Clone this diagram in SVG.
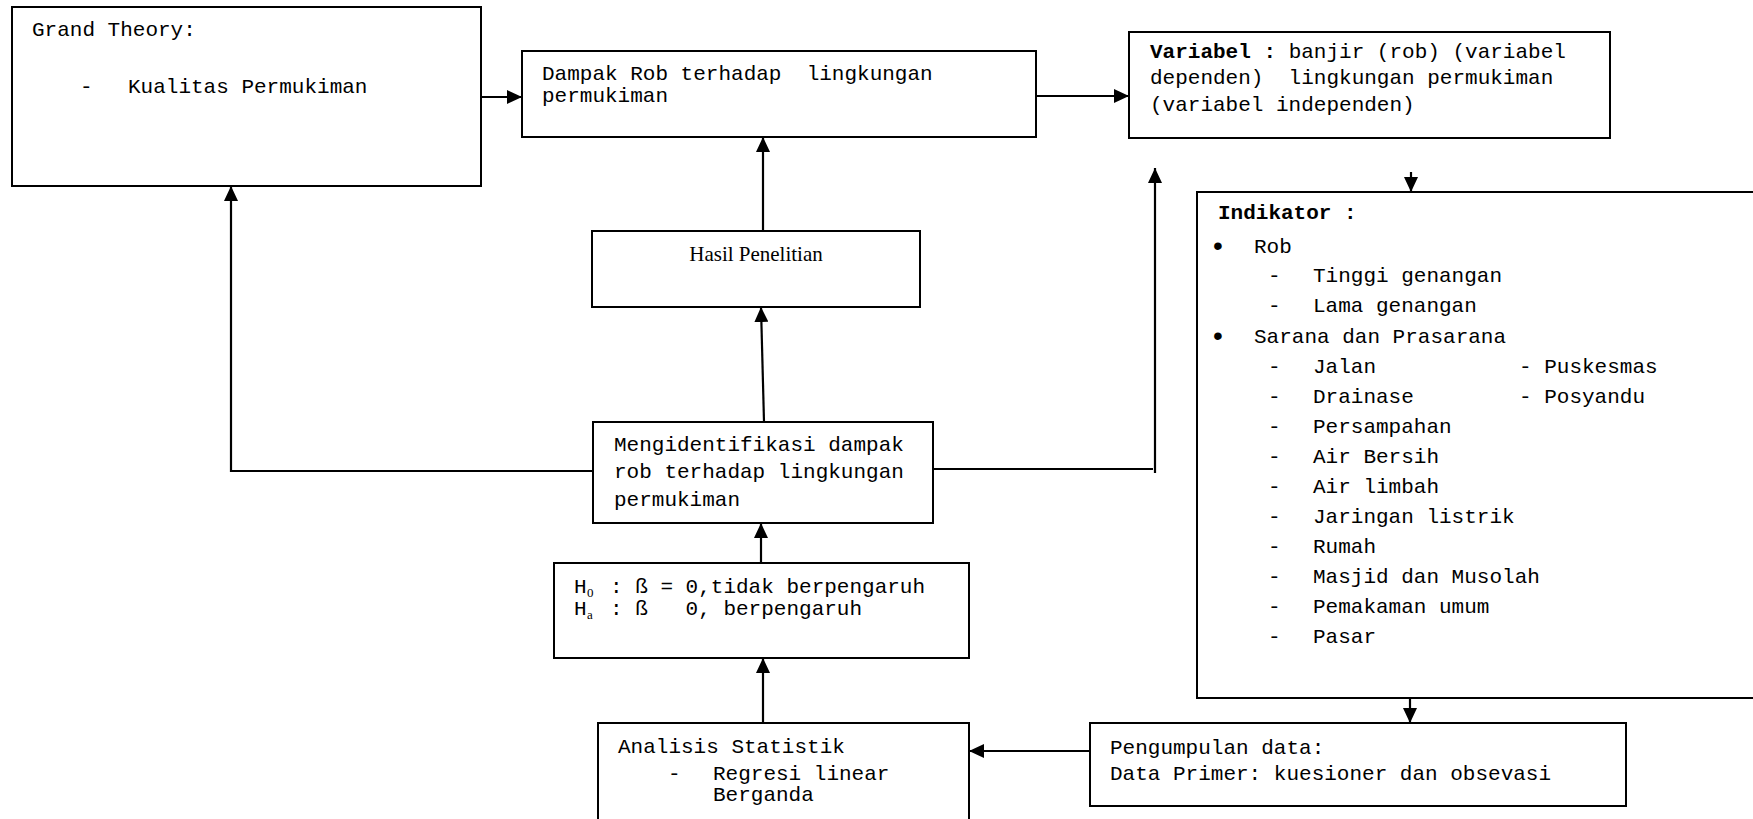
<svg xmlns="http://www.w3.org/2000/svg" width="1753" height="819" viewBox="0 0 1753 819">
<style>
  .box { fill: #fff; stroke: #000; stroke-width: 2; }
  .t { font-family: "Liberation Mono", "Courier New", monospace; font-size: 21px; fill: #000; white-space: pre; }
  .b { font-weight: bold; }
  .serif { font-family: "Liberation Serif", "Times New Roman", serif; font-size: 21px; fill: #000; }
  .sub { font-family: "Liberation Serif", serif; font-size: 13px; fill: #000; }
  .bul { font-family: "Liberation Sans", Arial, sans-serif; font-size: 28px; fill: #000; }
  .c { stroke: #000; stroke-width: 2.2; fill: none; }
</style>
<defs>
  <marker id="ah" markerUnits="userSpaceOnUse" markerWidth="15" markerHeight="14" viewBox="0 0 15 14" refX="15" refY="7" orient="auto">
    <path d="M0,0 L15,7 L0,14 z" fill="#000"/>
  </marker>
</defs>
<rect width="1753" height="819" fill="#fff"/>

<g id="grand-theory">
  <rect class="box" x="12" y="7" width="469" height="179"/>
  <text class="t" x="32" y="36">Grand Theory:</text>
  <text class="t" x="80" y="93">-</text>
  <text class="t" x="128" y="93">Kualitas Permukiman</text>
</g>

<g id="dampak">
  <rect class="box" x="522" y="51" width="514" height="86"/>
  <text class="t" x="542" y="80" xml:space="preserve">Dampak Rob terhadap  lingkungan</text>
  <text class="t" x="542" y="102">permukiman</text>
</g>

<g id="variabel">
  <rect class="box" x="1129" y="32" width="481" height="106"/>
  <text class="t" x="1150" y="58" xml:space="preserve"><tspan class="b">Variabel :</tspan> banjir (rob) (variabel</text>
  <text class="t" x="1150" y="84" xml:space="preserve">dependen)  lingkungan permukiman</text>
  <text class="t" x="1150" y="111">(variabel independen)</text>
</g>

<g id="indikator">
  <rect class="box" x="1197" y="192" width="570" height="506"/>
  <text class="t b" x="1218" y="219">Indikator :</text>
  <text class="bul" x="1213" y="255">•</text>
  <text class="t" x="1254" y="253">Rob</text>
  <text class="t" x="1268" y="282">-</text><text class="t" x="1313" y="282">Tinggi genangan</text>
  <text class="t" x="1268" y="312">-</text><text class="t" x="1313" y="312">Lama genangan</text>
  <text class="bul" x="1213" y="345">•</text>
  <text class="t" x="1254" y="343">Sarana dan Prasarana</text>
  <text class="t" x="1268" y="373">-</text><text class="t" x="1313" y="373">Jalan</text>
  <text class="t" x="1519" y="373">- Puskesmas</text>
  <text class="t" x="1268" y="403">-</text><text class="t" x="1313" y="403">Drainase</text>
  <text class="t" x="1519" y="403">- Posyandu</text>
  <text class="t" x="1268" y="433">-</text><text class="t" x="1313" y="433">Persampahan</text>
  <text class="t" x="1268" y="463">-</text><text class="t" x="1313" y="463">Air Bersih</text>
  <text class="t" x="1268" y="493">-</text><text class="t" x="1313" y="493">Air limbah</text>
  <text class="t" x="1268" y="523">-</text><text class="t" x="1313" y="523">Jaringan listrik</text>
  <text class="t" x="1268" y="553">-</text><text class="t" x="1313" y="553">Rumah</text>
  <text class="t" x="1268" y="583">-</text><text class="t" x="1313" y="583">Masjid dan Musolah</text>
  <text class="t" x="1268" y="613">-</text><text class="t" x="1313" y="613">Pemakaman umum</text>
  <text class="t" x="1268" y="643">-</text><text class="t" x="1313" y="643">Pasar</text>
</g>

<g id="hasil">
  <rect class="box" x="592" y="231" width="328" height="76"/>
  <text class="serif" x="756" y="261" text-anchor="middle">Hasil Penelitian</text>
</g>

<g id="mengidentifikasi">
  <rect class="box" x="593" y="422" width="340" height="101"/>
  <text class="t" x="614" y="451">Mengidentifikasi dampak</text>
  <text class="t" x="614" y="478">rob terhadap lingkungan</text>
  <text class="t" x="614" y="506">permukiman</text>
</g>

<g id="hipotesis">
  <rect class="box" x="554" y="563" width="415" height="95"/>
  <text class="t" x="574" y="593">H</text><text class="sub" x="587" y="597">0</text>
  <text class="t" x="597.4" y="593" xml:space="preserve"> : ß = 0,tidak berpengaruh</text>
  <text class="t" x="574" y="615">H</text><text class="sub" x="587" y="619">a</text>
  <text class="t" x="597.4" y="615" xml:space="preserve"> : ß   0, berpengaruh</text>
</g>

<g id="analisis">
  <rect class="box" x="598" y="723" width="371" height="110"/>
  <text class="t" x="618" y="753">Analisis Statistik</text>
  <text class="t" x="668" y="780">-</text>
  <text class="t" x="713" y="780">Regresi linear</text>
  <text class="t" x="713" y="801">Berganda</text>
</g>

<g id="pengumpulan">
  <rect class="box" x="1090" y="723" width="536" height="83"/>
  <text class="t" x="1110" y="754">Pengumpulan data:</text>
  <text class="t" x="1110" y="780">Data Primer: kuesioner dan obsevasi</text>
</g>

<g id="connectors">
  <line class="c" x1="481" y1="97" x2="522" y2="97" marker-end="url(#ah)"/>
  <line class="c" x1="1036" y1="96" x2="1129" y2="96" marker-end="url(#ah)"/>
  <line class="c" x1="763" y1="231" x2="763" y2="137" marker-end="url(#ah)"/>
  <line class="c" x1="764" y1="422" x2="761" y2="307" marker-end="url(#ah)"/>
  <polyline class="c" points="593,471 231,471 231,186" marker-end="url(#ah)"/>
  <line class="c" x1="933" y1="469" x2="1153" y2="469"/>
  <line class="c" x1="1155" y1="473" x2="1155" y2="168" marker-end="url(#ah)"/>
  <line class="c" x1="1411" y1="172" x2="1411" y2="192" marker-end="url(#ah)"/>
  <line class="c" x1="1410" y1="698" x2="1410" y2="723" marker-end="url(#ah)"/>
  <line class="c" x1="1090" y1="751" x2="969" y2="751" marker-end="url(#ah)"/>
  <line class="c" x1="763" y1="723" x2="763" y2="658" marker-end="url(#ah)"/>
  <line class="c" x1="761" y1="563" x2="761" y2="523" marker-end="url(#ah)"/>
</g>
</svg>
